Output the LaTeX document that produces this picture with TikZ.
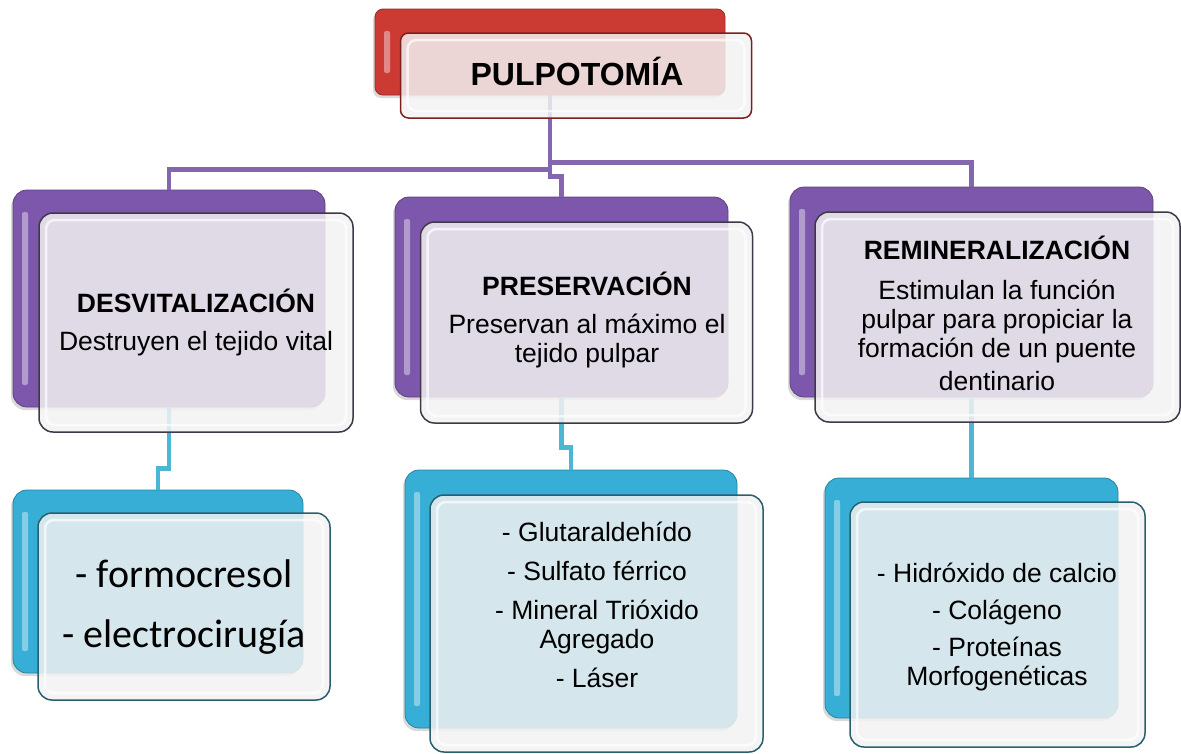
\documentclass[tikz,border=0pt]{standalone}
\usepackage{fontspec}
\setmainfont{Liberation Sans}
\newfontfamily\carlito{Carlito}
\usetikzlibrary{positioning,shadows}

\definecolor{pulpred}{HTML}{CC3A34}
\definecolor{pulpviolet}{HTML}{7D57AC}
\definecolor{pulpblue}{HTML}{36AED6}
\definecolor{violetline}{HTML}{8466AE}
\definecolor{blueline}{HTML}{4BB6D6}
\definecolor{redrim}{HTML}{7D1F1F}
\definecolor{violetrim}{HTML}{3C3A48}
\definecolor{bluerim}{HTML}{2A5F6E}

\begin{document}
\begin{tikzpicture}[
    x=1pt, y=-1pt,
    every node/.style={inner sep=0pt},
    boxsize/.style 2 args={minimum width=#1pt, minimum height=#2pt},
    backbox/.style={draw=#1!75!black, line width=.8pt, fill=#1, rounded corners=14pt,
        drop shadow={shadow xshift=-2pt, shadow yshift=-3pt, opacity=.3},
        path picture={\fill[white, opacity=.4, rounded corners=2pt]
            ([xshift=9pt,yshift=-22pt]path picture bounding box.north west) rectangle
            ([xshift=15pt,yshift=22pt]path picture bounding box.south west);}},
    frontbox/.style={draw=#1, line width=1.5pt, fill=gray!10, fill opacity=.85, rounded corners=14pt,
        path picture={\draw[white, line width=2.5pt, opacity=.7, rounded corners=9pt]
            ([xshift=7pt,yshift=-7pt]path picture bounding box.north west) rectangle
            ([xshift=-7pt,yshift=7pt]path picture bounding box.south east);}},
    boxtext/.style={anchor=base, align=center, font=\fontsize{26.5}{29}\selectfont},
    violetwire/.style={draw=violetline, line width=4.5pt},
    bluewire/.style={draw=blueline, line width=4.5pt}
]
\useasboundingbox (0,0) rectangle (1181,753);

% cajas traseras
\node[backbox=pulpred, rounded corners=8pt, boxsize={350}{86}] (topBack) at (550,52) {};
\node[backbox=pulpviolet, boxsize={312}{217}] (dBack) at (169,298.5) {};
\node[backbox=pulpviolet, boxsize={333}{200}] (pBack) at (561.5,297) {};
\node[backbox=pulpviolet, boxsize={363}{210}] (rBack) at (971.5,292) {};
\node[backbox=pulpblue, boxsize={290}{183}] (fBack) at (158,581.5) {};
\node[backbox=pulpblue, boxsize={332}{258}] (gBack) at (571,599) {};
\node[backbox=pulpblue, boxsize={293}{240}] (hBack) at (971.5,598) {};

% conectores
\path (topBack.south) ++(0,74) coordinate (busL);
\path (topBack.south) ++(0,67) coordinate (busR);
\path (topBack.south) ++(0,81) coordinate (busJog);
\draw[violetwire] (topBack.south) -- (busJog) -| (pBack.north);
\draw[violetwire] (busL) -| (dBack.north);
\draw[violetwire] (busR) -| (rBack.north);
\draw[bluewire] (dBack.south) -- ++(0,61) -| (fBack.north);
\draw[bluewire] (pBack.south) -- ++(0,50) -| (gBack.north);
\draw[bluewire] (rBack.south) -- (hBack.north);

% cajas delanteras
\node[frontbox=redrim, rounded corners=8pt, boxsize={351}{85}] (topFront) at ([shift={(26,23.5)}]topBack.center) {};
\node[frontbox=violetrim, boxsize={314}{219}] (dFront) at ([shift={(27,24)}]dBack.center) {};
\node[frontbox=violetrim, boxsize={332}{201}] (pFront) at ([shift={(25,25.5)}]pBack.center) {};
\node[frontbox=violetrim, boxsize={365}{210}] (rFront) at ([shift={(26,25)}]rBack.center) {};
\node[frontbox=bluerim, boxsize={292}{187}] (fFront) at ([shift={(26,25)}]fBack.center) {};
\node[frontbox=bluerim, boxsize={333}{257}] (gFront) at ([shift={(25.5,24.5)}]gBack.center) {};
\node[frontbox=bluerim, boxsize={295}{245}] (hFront) at ([shift={(26,26.5)}]hBack.center) {};

% textos (anclados en la linea base de la ultima linea)
\node[boxtext, font=\bfseries\fontsize{32}{36}\selectfont] (topText) at (577,85) {PULPOTOMÍA};
\node[boxtext] (dText) at (196,350) {\textbf{DESVITALIZACIÓN}\\[9pt]Destruyen el tejido vital};
\node[boxtext] (pText) at (587,362) {\textbf{PRESERVACIÓN}\\[9pt]Preservan al máximo el\\tejido pulpar};
\node[boxtext] (rText) at (997,390) {\textbf{REMINERALIZACIÓN}\\[11pt]Estimulan la función\\pulpar para propiciar la\\formación de un puente\\[4pt]dentinario};
\node[boxtext, font=\carlito\fontsize{40}{48}\selectfont] (fText) at (184,647) {- formocresol\\[12pt]- electrocirugía};
\node[boxtext] (gText) at (597,687) {- Glutaraldehído\\[10pt]- Sulfato férrico\\[10pt]- Mineral Trióxido\\Agregado\\[10pt]- Láser};
\node[boxtext] (hText) at (997,685) {- Hidróxido de calcio\\[8pt]- Colágeno\\[8pt]- Proteínas\\Morfogenéticas};

\end{tikzpicture}
\end{document}
